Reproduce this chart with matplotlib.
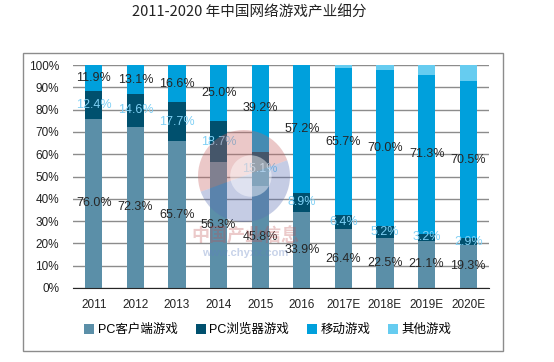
import matplotlib
matplotlib.use("Agg")
import matplotlib.pyplot as plt
import numpy as np
from matplotlib.patches import Rectangle, Wedge, Circle

plt.rcParams["font.family"] = ["Liberation Sans", "Noto Sans CJK SC", "DejaVu Sans"]

years = ["2011", "2012", "2013", "2014", "2015", "2016", "2017E", "2018E", "2019E", "2020E"]
pc_client = [76.0, 72.3, 65.7, 56.3, 45.8, 33.9, 26.4, 22.5, 21.1, 19.3]
pc_browser = [12.4, 14.6, 17.7, 18.7, 15.1, 8.9, 6.4, 5.2, 3.2, 2.9]
mobile = [11.9, 13.1, 16.6, 25.0, 39.2, 57.2, 65.7, 70.0, 71.3, 70.5]
other = [0.0, 0.0, 0.0, 0.0, 0.0, 0.0, 1.5, 2.3, 4.4, 7.3]

series = [
    ("PC客户端游戏", pc_client, "#5b8fa8", "#262626"),
    ("PC浏览器游戏", pc_browser, "#00506e", "#7fd0f5"),
    ("移动游戏", mobile, "#00a0dc", "#262626"),
    ("其他游戏", other, "#66ccf0", None),
]

W, H = 554, 362
fig = plt.figure(figsize=(W / 100, H / 100), dpi=100)
fig.patches.append(Rectangle((23 / W, 1 - 351 / H), 480 / W, 298 / H,
                             transform=fig.transFigure, fill=False,
                             edgecolor="#8c8c8c", lw=1.0))
fig.text(0.45, 1 - 13 / H, "2011-2020 年中国网络游戏产业细分", ha="center", va="center",
         fontsize=10.5, family=["Noto Sans CJK SC", "DejaVu Sans"], color="#222222")

ax = fig.add_axes([73 / W, 74 / H, 416 / W, 223 / H])
x = np.arange(len(years))
bottom = np.zeros(len(years))
for name, vals, color, tcolor in series:
    vals = np.array(vals)
    ax.bar(x, vals, 0.41, bottom=bottom, color=color, label=name, zorder=2)
    if tcolor is not None:
        for xi, b, v in zip(x, bottom, vals):
            ax.text(xi, b + v / 2, f"{v:.1f}%", ha="center", va="center",
                    fontsize=9, color=tcolor, zorder=6)
    bottom = bottom + vals

ax.set_xlim(-0.5, len(years) - 0.5)
ax.set_ylim(0, 100)
ax.set_yticks(np.arange(0, 101, 10))
ax.set_yticklabels([f"{v}%" for v in range(0, 101, 10)], fontsize=8.5, color="#222222")
ax.set_xticks(x)
ax.set_xticklabels(years, fontsize=8.5, color="#222222")
ax.tick_params(axis="both", length=0)
ax.tick_params(axis="y", pad=10)
ax.tick_params(axis="x", pad=8)
ax.grid(axis="y", color="#8c8c8c", lw=1.0, zorder=1)
for s in ["left", "right", "top"]:
    ax.spines[s].set_visible(False)
ax.spines["bottom"].set_color("#262626")
ax.spines["bottom"].set_zorder(3)

# faint watermark logo (chyxx)
wm = fig.add_axes([198 / W, 1 - 222 / H, 92 / W, 92 / H], zorder=5)
wm.set_xlim(-1, 1)
wm.set_ylim(-1, 1)
wm.set_aspect("equal")
wm.axis("off")
wm.patch.set_alpha(0)
wm.add_patch(Wedge((0, 0), 1, 20, 200, color="#c86464", alpha=0.35, lw=0))
wm.add_patch(Wedge((0, 0), 1, 200, 380, color="#5a6eb4", alpha=0.35, lw=0))
wm.add_patch(Circle((0.15, 0.0), 0.45, color="white", alpha=0.45, lw=0))
fig.text(245 / W, 1 - 236 / H, "中国产业信息", ha="center", va="center", fontsize=13,
         family=["Noto Sans CJK SC"], color="#c05050", alpha=0.3, weight="bold")
fig.text(245 / W, 1 - 253 / H, "www.chyxx.com", ha="center", va="center", fontsize=8,
         color="#6080c0", alpha=0.35, weight="bold")

handles, labels = ax.get_legend_handles_labels()
fig.legend(handles, labels, loc="center", bbox_to_anchor=(268 / W, 1 - 330 / H), ncol=4,
           frameon=False, handlelength=0.8, handleheight=0.8,
           handletextpad=0.3, columnspacing=1.4,
           prop={"family": ["Liberation Sans", "Noto Sans CJK SC"], "size": 9})

fig.savefig("out.png", dpi=100)
